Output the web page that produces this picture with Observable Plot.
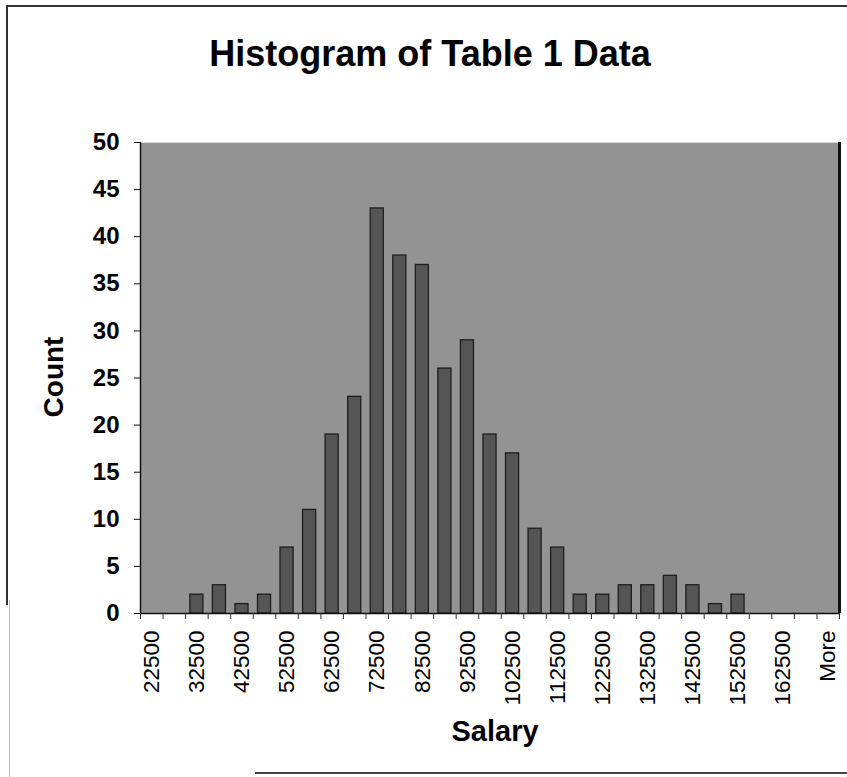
<!DOCTYPE html>
<html>
<head>
<meta charset="utf-8">
<script src="https://cdn.jsdelivr.net/npm/d3@7"></script>
<script src="https://cdn.jsdelivr.net/npm/@observablehq/plot@0.6"></script>
<style>
  html, body { margin: 0; padding: 0; background: #fff; }
  #wrap { position: relative; width: 847px; height: 777px; overflow: hidden; font-family: "Liberation Sans", Arial, sans-serif; }
  #frameTop { position: absolute; left: 6px; top: 5px; width: 841px; height: 0; border-top: 2px solid #333; }
  #frameLeft { position: absolute; left: 6px; top: 5px; width: 0; height: 600px; border-left: 2px solid #333; }
  #frameLeft2 { position: absolute; left: 9px; top: 600px; width: 0; height: 177px; border-left: 1px solid #bbb; }
  #frameBottom { position: absolute; left: 255px; top: 772px; width: 592px; height: 0; border-top: 2px solid #444; }
  #chart { position: absolute; left: 0; top: 0; }
</style>
</head>
<body>
<div id="wrap">
  <div id="chart"></div>
  <div id="frameTop"></div>
  <div id="frameLeft"></div>
  <div id="frameLeft2"></div>
  <div id="frameBottom"></div>
</div>
<script>
const categories = ["22500","27500","32500","37500","42500","47500","52500","57500","62500","67500",
  "72500","77500","82500","87500","92500","97500","102500","107500","112500","117500",
  "122500","127500","132500","137500","142500","147500","152500","157500","162500","167500","More"];
const counts = [0,0,2,3,1,2,7,11,19,23,43,38,37,26,29,19,17,9,7,2,2,3,3,4,3,1,2,0,0,0,0];
const yTicks = [0,5,10,15,20,25,30,35,40,45,50];
const title = "Histogram of Table 1 Data";
const xLabel = "Salary";
const yLabel = "Count";

const data = categories.map((c, i) => ({i, cat: c, count: counts[i]}));
const labelIdx = categories.map((c, i) => i).filter(i => i % 2 === 0);
const bounds = d3.range(-0.5, categories.length, 1);
const halfBar = 0.29;

const chart = Plot.plot({
  width: 847,
  height: 777,
  marginLeft: 140,
  marginRight: 8,
  marginTop: 142,
  marginBottom: 164,
  style: {fontFamily: "'Liberation Sans', Arial, sans-serif", background: "transparent", color: "#000", overflow: "visible"},
  x: {domain: [-0.5, categories.length - 0.5], axis: null},
  y: {domain: [0, 50], axis: null},
  marks: [
    Plot.frame({fill: "#939393", stroke: "#d8d8d8", strokeWidth: 1}),
    Plot.rectY(data, {x1: d => d.i - halfBar, x2: d => d.i + halfBar, y1: 0, y2: "count", fill: "#555", stroke: "#1e1e1e", strokeWidth: 1.3}),
    Plot.ruleX([categories.length - 0.5], {stroke: "#111", strokeWidth: 3}),
    Plot.ruleX([-0.5], {stroke: "#111", strokeWidth: 1.5}),
    Plot.ruleY([0], {stroke: "#111", strokeWidth: 1.5}),
    Plot.ruleX(bounds, {x: d => d, y1: 0, y2: 0, insetBottom: -6, stroke: "#333", strokeWidth: 1}),
    Plot.axisY({ticks: yTicks, tickSize: 6, tickPadding: 15, fontSize: 24, fontWeight: "bold", label: null, stroke: "#111"}),
    Plot.axisX({ticks: labelIdx, tickFormat: i => categories[i], tickRotate: -90, tickSize: 0, tickPadding: 17, fontSize: 22.5, label: null}),
    Plot.text([title], {frameAnchor: "top", lineAnchor: "middle", dy: -88, dx: -60, fontSize: 36, fontWeight: "bold", text: d => d}),
    Plot.text([xLabel], {frameAnchor: "bottom", lineAnchor: "middle", dy: 118, dx: 5, fontSize: 29, fontWeight: "bold", text: d => d}),
    Plot.text([yLabel], {frameAnchor: "left", textAnchor: "middle", lineAnchor: "middle", dx: -86, dy: -1, rotate: -90, fontSize: 28, fontWeight: "bold", text: d => d})
  ]
});
document.getElementById("chart").appendChild(chart);
</script>
</body>
</html>
